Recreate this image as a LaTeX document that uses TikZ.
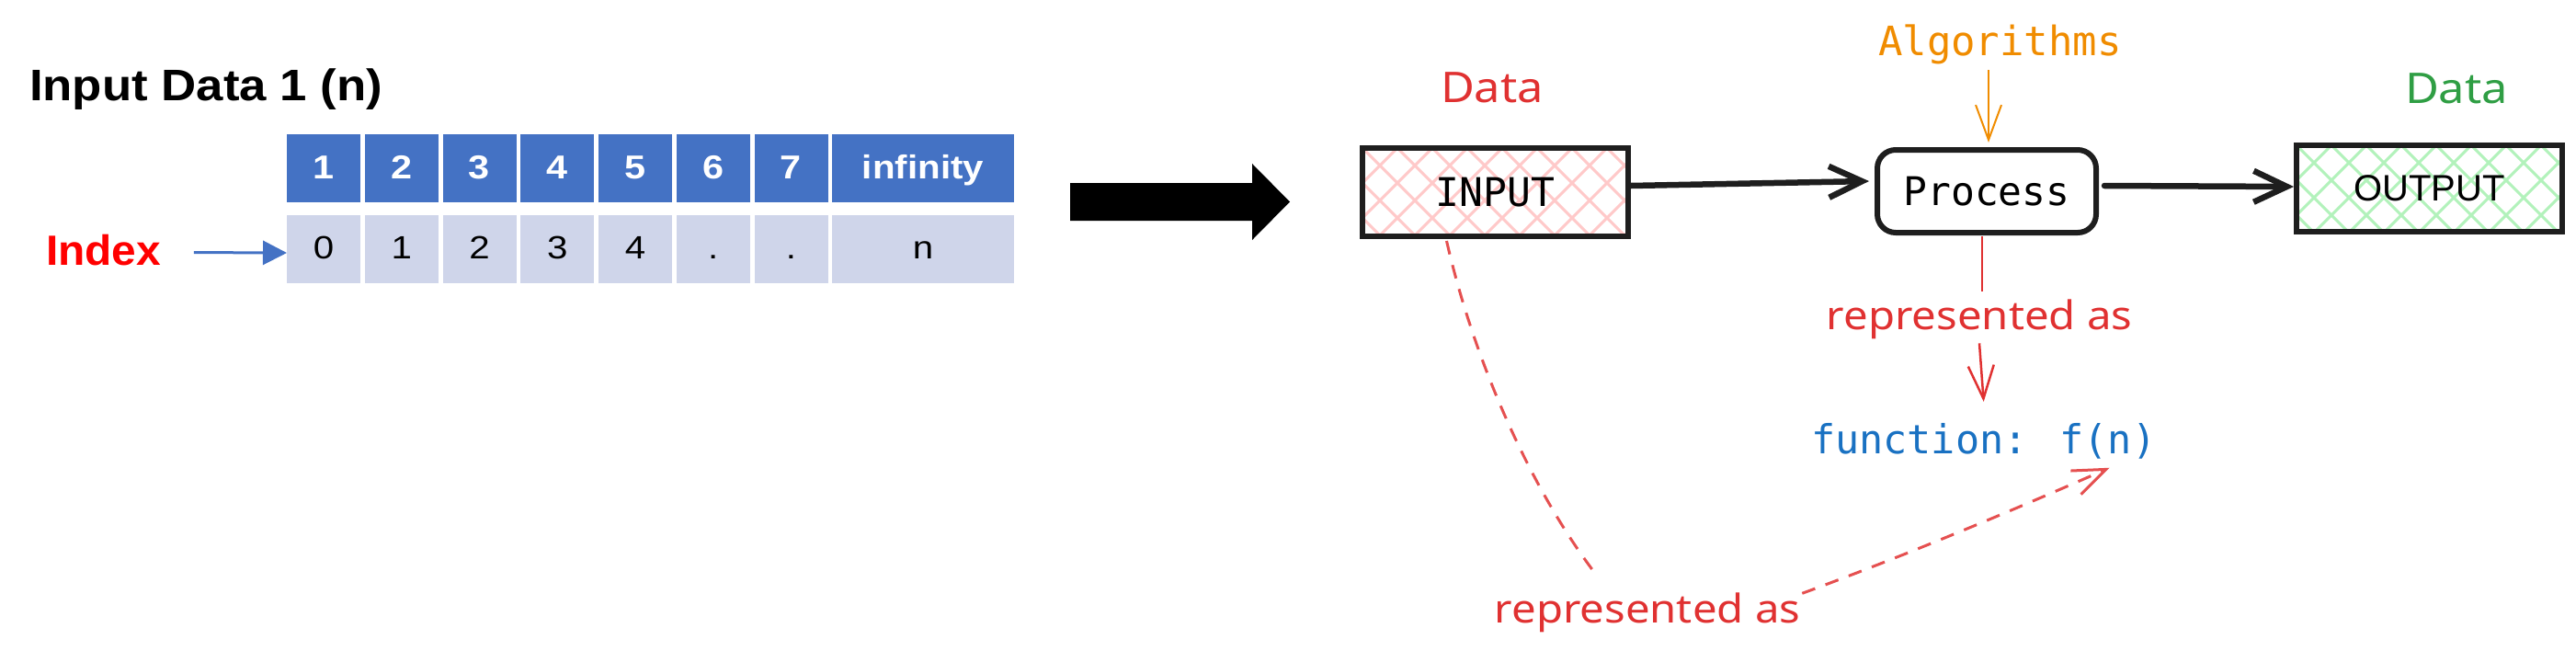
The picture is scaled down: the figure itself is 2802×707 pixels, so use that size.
\documentclass[tikz,border=0pt]{standalone}
\usepackage{fontspec}
\setmainfont{Liberation Sans}
\newfontfamily\monofont{DejaVu Sans Mono}
\newfontfamily\handfont{Noto Sans}
\usetikzlibrary{arrows.meta}
\definecolor{hdrblue}{HTML}{4472C4}
\definecolor{rowblue}{HTML}{CFD5EA}
\definecolor{exred}{HTML}{E03131}
\definecolor{exgreen}{HTML}{2F9E44}
\definecolor{exorange}{HTML}{F08C00}
\definecolor{exblue}{HTML}{1971C2}
\definecolor{hatchred}{HTML}{FFC9C9}
\definecolor{hatchgreen}{HTML}{B2F2BB}
\definecolor{inkblack}{HTML}{1E1E1E}
\newcommand{\setfs}[1]{\fontsize{#1}{#1}\selectfont}
\newcommand{\hstretch}[2]{\scalebox{#1}[1]{#2}}
\begin{document}
\begin{tikzpicture}[x=1pt,y=-1pt,
  txt/.style={inner sep=0pt, outer sep=0pt},
  hcell/.style={fill=hdrblue, minimum height=74pt, minimum width=80pt, inner sep=0pt, outer sep=0pt,
    text=white, font=\bfseries\setfs{36}, text height=25pt, text depth=2pt},
  dcell/.style={fill=rowblue, minimum height=74pt, minimum width=80pt, inner sep=0pt, outer sep=0pt,
    text=black, font=\setfs{35}, text height=24pt, text depth=4pt},
  hatch/.style={path picture={\foreach \k in {-4,...,12}{
      \draw[draw=#1, line width=3pt] ([xshift=\k*38pt]path picture bounding box.north west) -- ++(130,130);
      \draw[draw=#1, line width=3pt] ([xshift=\k*38pt]path picture bounding box.north west) -- ++(-130,130);}}},
  exbox/.style={draw=inkblack, line width=6pt, inner sep=0pt, outer sep=0pt},
  blkarrow/.style={draw=inkblack, line width=6.5pt, line cap=round, -{Straight Barb[length=36pt, width=34pt]}},
  redline/.style={draw=exred, line width=2.5pt},
  redarrow/.style={draw=exred, line width=2.5pt, -{Straight Barb[length=36pt, width=28pt]}},
  orangearrow/.style={draw=exorange, line width=2pt, -{Straight Barb[length=38pt, width=28pt]}},
  dashedred/.style={draw=exred!85, line width=3pt, dash pattern=on 15pt off 12pt},
  idxarrow/.style={draw=hdrblue, line width=3pt, -{Triangle[length=26pt, width=26pt]}}
]
\useasboundingbox (0,0) rectangle (2802,707);

% ---- left: array ----
\node[txt, anchor=base west, font=\bfseries\setfs{48}] (title) at (32,109) {\hstretch{1.1}{Input Data 1 (n)}};
\foreach \i in {1,...,7}{
  \node[hcell] (h\i) at ({352+84.75*(\i-1)},183) {\hstretch{1.15}{\i}};
}
\foreach \i/\v in {1/0,2/1,3/2,4/3,5/4,6/.,7/.}{
  \node[dcell] (d\i) at ({352+84.75*(\i-1)},271) {\hstretch{1.15}{\v}};
}
\node[hcell, minimum width=198pt] (hinf) at (1004,183) {\hstretch{1.12}{infinity}};
\node[dcell, minimum width=198pt] (dinf) at (1004,271) {\hstretch{1.15}{n}};
\node[txt, anchor=base west, font=\bfseries\setfs{46}, text=red] (Index) at (50,288) {\hstretch{1.04}{Index}};
\draw[idxarrow] ([xshift=36pt,yshift=-3pt]Index.east) -- ([yshift=-4pt]d1.west);

% ---- big arrow ----
\fill[black] (1164,199) -- (1362,199) -- (1362,178) -- (1403,219.5) -- (1362,261) -- (1362,240) -- (1164,240) -- cycle;

% ---- right: flow ----
\node[exbox, hatch=hatchred, minimum width=289pt, minimum height=96pt, font=\monofont\setfs{43}] (INPUT) at (1626.5,209) {INPUT};
\node[exbox, rounded corners=20pt, minimum width=238pt, minimum height=90pt, font=\monofont\setfs{43}] (Process) at (2161,208) {Process};
\node[exbox, hatch=hatchgreen, minimum width=289pt, minimum height=94pt, font=\setfs{40}] (OUTPUT) at (2642.5,205) {OUTPUT};

\node[txt, anchor=base, font=\handfont\setfs{46}, text=exred] (datain) at (1623,111) {\hstretch{1.1}{Data}};
\node[txt, anchor=base, font=\handfont\setfs{46}, text=exgreen] (dataout) at (2672,112) {\hstretch{1.1}{Data}};
\node[txt, anchor=base west, font=\monofont\setfs{44}, text=exorange] (alg) at (2043,60) {Algorithms};

\node[txt, anchor=base, font=\handfont\setfs{43}, text=exred] (rep1) at (2153,358) {\hstretch{1.1}{represented as}};
\node[txt, anchor=base west, font=\monofont\setfs{43.5}, text=exblue] (func) at (1970,493) {function: f(n)};
\node[txt, anchor=base, font=\handfont\setfs{43}, text=exred] (rep2) at (1792,677) {\hstretch{1.1}{represented as}};

\draw[blkarrow] ([xshift=3pt,yshift=7pt]INPUT.east) -- ([xshift=-9pt,yshift=11pt]Process.west);
\draw[blkarrow] ([xshift=9pt,yshift=6pt]Process.east) -- ([xshift=-3pt,yshift=2pt]OUTPUT.west);

\coordinate (algtail) at (2163,76);
\draw[orangearrow] (algtail) -- ([xshift=2pt,yshift=8pt]Process.north);

\draw[redline] ([xshift=-5pt,yshift=-4pt]Process.south) -- ([xshift=3pt,yshift=8pt]rep1.north);
\draw[redarrow] ([yshift=-5pt]rep1.south) -- ([yshift=23pt]func.north);

\draw[dashedred] ([xshift=-53pt,yshift=-5pt]INPUT.south) .. controls (1605,400) and (1670,540) .. ([xshift=-54pt,yshift=17pt]rep2.north);
\draw[dashedred, -{Straight Barb[length=36pt, width=28pt]}] ([xshift=2pt,yshift=-1pt]rep2.north east) .. controls (2070,605) and (2180,559) .. ([xshift=137pt,yshift=-10pt]func.south);
\end{tikzpicture}
\end{document}
